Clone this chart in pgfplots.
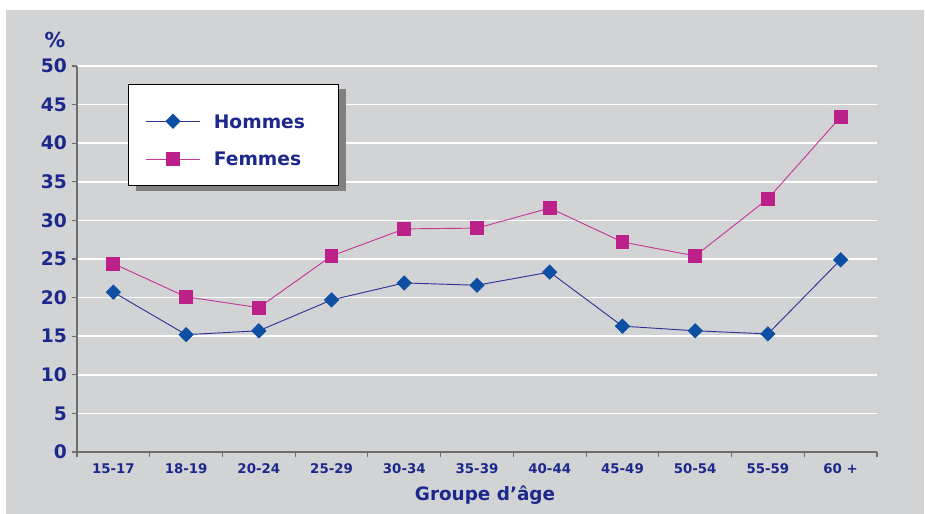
\documentclass[border=0pt]{standalone}
\usepackage{fontspec}
\setmainfont{DejaVu Sans}
\usepackage{pgfplots}
\pgfplotsset{compat=1.18}
\definecolor{bg}{RGB}{210,211,213}
\definecolor{txt}{RGB}{27,40,140}
\definecolor{hom}{RGB}{13,79,163}
\definecolor{homl}{RGB}{50,50,150}
\definecolor{fem}{RGB}{188,32,137}
\definecolor{feml}{RGB}{196,56,150}
\definecolor{axl}{RGB}{110,110,110}
\definecolor{shad}{RGB}{128,128,128}
\begin{document}
\begin{tikzpicture}
\fill[white] (0pt,0pt) rectangle (693.75pt,385.5pt);
\fill[bg] (4.5pt,0pt) rectangle (693pt,378pt);
\begin{axis}[
  at={(57.75pt,46.5pt)}, anchor=south west,
  width=600pt, height=289.5pt, scale only axis,
  xmin=-0.5, xmax=10.5, ymin=0, ymax=50,
  axis x line*=bottom, axis y line*=left,
  axis line style={axl, line width=1.1pt, -},
  xtick={-0.5,0.5,1.5,2.5,3.5,4.5,5.5,6.5,7.5,8.5,9.5,10.5},
  x tick label as interval,
  xticklabels={15-17,18-19,20-24,25-29,30-34,35-39,40-44,45-49,50-54,55-59,60 +},
  ytick={0,5,...,50},
  tick align=outside,
  major tick length=4pt,
  tick style={axl, line width=0.8pt},
  ymajorgrids,
  grid style={white, line width=1.1pt},
  /pgf/number format/assume math mode=true,
  y tick label style={font=\bfseries\fontsize{14}{14}\selectfont, text=txt},
  x tick label style={font=\bfseries\fontsize{10}{10}\selectfont, text=txt, yshift=-1pt},
  legend style={at={(rel axis cs:0.085,0.8756)}, anchor=north west,
    draw=none, fill=none,
    font=\bfseries\fontsize{14}{14}\selectfont, text=txt,
    inner xsep=0pt, inner ysep=0pt, row sep=18pt,
    nodes={inner sep=0pt, text height=10.2pt, text depth=0pt},
    /tikz/every odd column/.append style={column sep=9.75pt}},
  legend cell align=left,
  legend image code/.code={\draw[mark repeat=2,mark phase=2,#1] plot coordinates {(0pt,0pt) (20.5pt,0pt) (41pt,0pt)};},
]
\fill[shad] (rel axis cs:0.07375,0.94041) rectangle (rel axis cs:0.33625,0.67617);
\filldraw[fill=white, draw=black, line width=0.6pt] (rel axis cs:0.06375,0.95337) rectangle (rel axis cs:0.32625,0.69041);
\addplot[homl, line width=0.7pt, mark=square*, mark size=3.7pt,
  mark options={fill=hom, draw=hom, rotate=45, solid}] coordinates {
  (0,20.7) (1,15.2) (2,15.7) (3,19.7) (4,21.9) (5,21.6) (6,23.3) (7,16.3) (8,15.7) (9,15.3) (10,24.9)};
\addlegendentry{Hommes}
\addplot[feml, line width=0.7pt, mark=square*, mark size=4.8pt,
  mark options={fill=fem, draw=fem, solid}] coordinates {
  (0,24.4) (1,20.1) (2,18.7) (3,25.4) (4,28.9) (5,29.0) (6,31.6) (7,27.2) (8,25.4) (9,32.8) (10,43.4)};
\addlegendentry{Femmes}
\end{axis}
\node[font=\bfseries\fontsize{15.5}{15.5}\selectfont, text=txt] at (41.25pt,355.5pt) {\%};
\node[font=\bfseries\fontsize{13.8}{13.8}\selectfont, text=txt] at (363.75pt,14.25pt) {Groupe d’âge};
\end{tikzpicture}
\end{document}
